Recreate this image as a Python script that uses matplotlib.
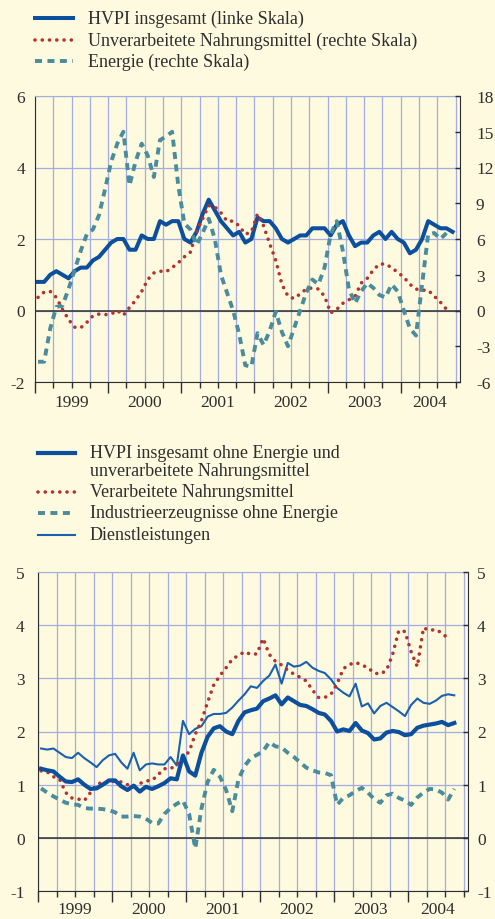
"""
HVPI und Komponenten, 1999-2004. Two stacked panels, legend text on top of each.
"""

import numpy as np
import matplotlib.pyplot as plt
from matplotlib.lines import Line2D
from matplotlib.ticker import MultipleLocator

W, H = 495, 920
BG = "#fdfadf"
GRID = "#a4addf"
INK = "#2e2e2e"
BLUE = "#0b4f9d"
BLUE_THIN = "#1a60ae"
RED = "#b3332c"
TEAL = "#4b8c9c"

plt.rcParams["font.family"] = ["Liberation Serif", "DejaVu Serif"]
plt.rcParams["font.size"] = 12.5
plt.rcParams["axes.unicode_minus"] = False

# --- top panel, monthly from Jan 1999 (annual % changes) ---
hvpi = [0.8, 0.8, 1.0, 1.1, 1.0, 0.9, 1.1, 1.2, 1.2, 1.4, 1.5, 1.7,
        1.9, 2.0, 2.0, 1.7, 1.7, 2.1, 2.0, 2.0, 2.5, 2.4, 2.5, 2.5,
        2.0, 1.9, 2.2, 2.7, 3.1, 2.8, 2.5, 2.3, 2.1, 2.2, 1.9, 2.0,
        2.6, 2.5, 2.5, 2.3, 2.0, 1.9, 2.0, 2.1, 2.1, 2.3, 2.3, 2.3,
        2.1, 2.4, 2.5, 2.1, 1.8, 1.9, 1.9, 2.1, 2.2, 2.0, 2.2, 2.0,
        1.9, 1.6, 1.7, 2.0, 2.5, 2.4, 2.3, 2.3, 2.2]
unproc_food = [1.1, 1.55, 1.6, 1.1, 0.1, -0.75, -1.4, -1.45, -1.0, -0.45, -0.3, -0.35,
               -0.3, 0.0, -0.4, 0.25, 0.85, 1.6, 2.6, 3.15, 3.3, 3.25, 3.6, 4.0,
               4.5, 4.9, 6.6, 7.7, 8.8, 8.7, 8.2, 7.5, 7.5, 7.1, 6.4, 6.6,
               8.1, 7.1, 5.6, 4.2, 2.2, 1.2, 1.0, 1.4, 1.8, 1.9, 1.8, 1.2,
               -0.2, 0.1, 0.6, 0.9, 1.2, 2.3, 2.7, 3.4, 3.9, 3.9, 3.6, 3.2,
               2.8, 2.2, 1.8, 1.7, 1.7, 1.2, 0.7, 0.1]
energy = [-4.3, -4.3, -1.5, 0.3, 0.4, 1.8, 3.4, 5.0, 6.4, 6.8, 8.0, 10.2,
          12.5, 14.0, 15.0, 10.5, 12.5, 14.0, 13.0, 11.2, 14.3, 14.6, 15.0, 10.5,
          7.3, 6.8, 5.5, 6.5, 7.7, 6.0, 3.0, 1.5, 0.0, -2.0, -4.6, -4.7,
          -1.9, -2.9, -1.7, -0.1, -1.8, -3.0, -1.5, 0.0, 1.5, 2.6, 2.2, 3.6,
          6.4, 7.5, 5.0, 1.8, 0.6, 1.6, 2.3, 1.9, 1.3, 1.1, 2.2, 1.6,
          0.0, -1.5, -2.1, 2.2, 6.4, 6.5, 6.0, 6.5]

# --- bottom panel ---
core = [1.3, 1.27, 1.25, 1.15, 1.06, 1.05, 1.1, 1.0, 0.92, 0.93, 1.0, 1.08,
        1.08, 0.97, 0.9, 0.98, 0.87, 0.96, 0.92, 0.97, 1.03, 1.12, 1.1, 1.55,
        1.25, 1.17, 1.6, 1.9, 2.06, 2.1, 2.0, 1.95, 2.2, 2.36, 2.4, 2.43,
        2.57, 2.62, 2.68, 2.51, 2.64, 2.57, 2.5, 2.48, 2.42, 2.35, 2.32, 2.2,
        2.0, 2.04, 2.01, 2.16, 2.02, 1.97, 1.85, 1.87, 1.98, 2.01, 1.99, 1.93,
        1.95, 2.07, 2.11, 2.13, 2.15, 2.18, 2.12, 2.16]
proc_food = [1.26, 1.24, 1.15, 1.1, 0.85, 0.75, 0.73, 0.7, 0.85, 1.0, 1.05, 1.03,
             1.07, 1.05, 1.0, 0.97, 1.02, 1.07, 1.08, 1.19, 1.3, 1.3, 1.38, 1.5,
             1.62, 1.95, 2.2, 2.55, 2.88, 3.05, 3.2, 3.36, 3.43, 3.5, 3.45, 3.46,
             3.75, 3.45, 3.32, 3.25, 3.15, 3.08, 3.02, 2.95, 2.78, 2.64, 2.64, 2.7,
             2.9, 3.18, 3.26, 3.3, 3.25, 3.2, 3.1, 3.08, 3.15, 3.45, 3.9, 3.88,
             3.5, 3.22, 3.95, 3.9, 3.92, 3.85, 3.75]
ind_goods = [0.93, 0.85, 0.78, 0.72, 0.66, 0.63, 0.62, 0.56, 0.55, 0.55, 0.54, 0.52,
             0.48, 0.4, 0.4, 0.41, 0.4, 0.36, 0.28, 0.27, 0.45, 0.56, 0.64, 0.7,
             0.45, -0.2, 0.55, 1.05, 1.28, 1.15, 0.9, 0.5, 1.1, 1.35, 1.5, 1.56,
             1.63, 1.8, 1.72, 1.7, 1.6, 1.52, 1.42, 1.32, 1.27, 1.23, 1.22, 1.18,
             0.62, 0.75, 0.8, 0.88, 0.94, 0.85, 0.73, 0.66, 0.8, 0.83, 0.75, 0.7,
             0.62, 0.76, 0.85, 0.92, 0.91, 0.85, 0.72, 0.92]
services = [1.68, 1.66, 1.68, 1.6, 1.52, 1.5, 1.6, 1.5, 1.42, 1.33, 1.46, 1.55,
            1.58, 1.42, 1.3, 1.6, 1.27, 1.38, 1.4, 1.38, 1.38, 1.52, 1.36, 2.2,
            1.95, 2.05, 2.1, 2.28, 2.33, 2.33, 2.35, 2.45, 2.58, 2.7, 2.85, 2.82,
            2.95, 3.05, 3.26, 2.9, 3.29, 3.22, 3.24, 3.31, 3.2, 3.14, 3.1, 2.98,
            2.82, 2.73, 2.66, 2.9, 2.47, 2.53, 2.34, 2.48, 2.54, 2.46, 2.38, 2.29,
            2.5, 2.62, 2.54, 2.52, 2.58, 2.67, 2.7, 2.68]

year_labels = ["1999", "2000", "2001", "2002", "2003", "2004"]
year_label_pos = [1999.5, 2000.5, 2001.5, 2002.5, 2003.5, 2004.4]


def months(series):
    # mid-month positions in decimal years, starting Jan 1999
    return 1999 + (np.arange(len(series)) + 0.5) / 12


def fx(x):
    return x / W


def fy(y):
    return 1 - y / H


DOTTED = dict(linestyle=(0, (0.01, 2.0)), dash_capstyle="round", lw=2.6, color=RED)
DASHED = dict(linestyle=(0, (1.8, 1.4)), dash_capstyle="butt", lw=2.8, color=TEAL)


def frame(ax, right, left_pad, right_pad, label_drop):
    ax.set_facecolor(BG)
    ax.set_axisbelow(True)
    ax.set_xlim(1999, 2004.81)
    ax.xaxis.set_major_locator(MultipleLocator(1))
    ax.xaxis.set_minor_locator(MultipleLocator(0.25))
    ax.grid(axis="x", which="both", color=GRID, lw=0.9)
    ax.grid(axis="y", which="major", color=GRID, lw=0.9)
    ax.axhline(0, color=INK, lw=1.1, zorder=1.5)
    ax.tick_params(axis="x", which="major", direction="out", length=8, width=1,
                   color=INK, labelbottom=False)
    ax.tick_params(axis="x", which="minor", direction="out", length=4, width=1,
                   color=INK)
    ax.tick_params(axis="y", length=0, pad=left_pad, colors=INK)
    ax.spines["top"].set_color(GRID)
    ax.spines["left"].set_color(INK)
    ax.spines["bottom"].set_color(INK)
    ax.spines["right"].set_visible(False)
    for p, lab in zip(year_label_pos, year_labels):
        ax.annotate(lab, xy=(p, 0), xycoords=("data", "axes fraction"),
                    xytext=(0, -label_drop * 0.72), textcoords="offset points",
                    ha="center", va="center", color=INK)
    for s in ("top", "left", "bottom"):
        right.spines[s].set_visible(False)
    right.spines["right"].set_color(INK)
    right.tick_params(axis="y", direction="in", length=3.5, width=1, pad=right_pad,
                      colors=INK)


def legend(entries, x0, x1, xt):
    for y, style, texts in entries:
        fig.add_artist(Line2D([fx(x0), fx(x1)], [fy(y), fy(y)], **style))
        for i, t in enumerate(texts):
            fig.text(fx(xt), fy(y + 18 * i), t, ha="left", va="center",
                     color=INK, fontsize=13)


fig = plt.figure(figsize=(W / 100, H / 100), dpi=100, facecolor=BG)

# ---------------- top panel ----------------
ax1 = fig.add_axes([fx(35), fy(383), (460 - 35) / W, (383 - 97) / H])
ax1r = ax1.twinx()
ax1.set_ylim(-2, 6)
ax1.set_yticks([-2, 0, 2, 4, 6])
ax1r.set_ylim(-6, 18)
ax1r.set_yticks(np.arange(-6, 19, 3))
frame(ax1, ax1r, left_pad=7, right_pad=11.5, label_drop=20)

ax1.plot(months(hvpi), hvpi, color=BLUE, lw=2.9)
ax1r.plot(months(unproc_food), unproc_food, **DOTTED)
ax1r.plot(months(energy), energy, **DASHED)

legend([(19, dict(color=BLUE, lw=2.9), ["HVPI insgesamt (linke Skala)"]),
        (41, DOTTED, ["Unverarbeitete Nahrungsmittel (rechte Skala)"]),
        (62, DASHED, ["Energie (rechte Skala)"])],
       35, 73, 88)

# ---------------- bottom panel ----------------
ax2 = fig.add_axes([fx(38), fy(892), (468 - 38) / W, (892 - 573) / H])
ax2r = ax2.twinx()
ax2.set_ylim(-1, 5)
ax2.set_yticks(range(-1, 6))
ax2r.set_ylim(-1, 5)
ax2r.set_yticks(range(-1, 6))
frame(ax2, ax2r, left_pad=9.5, right_pad=6.5, label_drop=18)

ax2.plot(months(services), services, color=BLUE_THIN, lw=1.5)
ax2.plot(months(ind_goods), ind_goods, **DASHED)
ax2.plot(months(proc_food), proc_food, **DOTTED)
ax2.plot(months(core), core, color=BLUE, lw=3.0)

legend([(454, dict(color=BLUE, lw=3.0),
         ["HVPI insgesamt ohne Energie und", "unverarbeitete Nahrungsmittel"]),
        (493, DOTTED, ["Verarbeitete Nahrungsmittel"]),
        (514, DASHED, ["Industrieerzeugnisse ohne Energie"]),
        (536, dict(color=BLUE_THIN, lw=1.5), ["Dienstleistungen"])],
       38, 75, 90)

fig.savefig("out.png", dpi=100, facecolor=BG)
